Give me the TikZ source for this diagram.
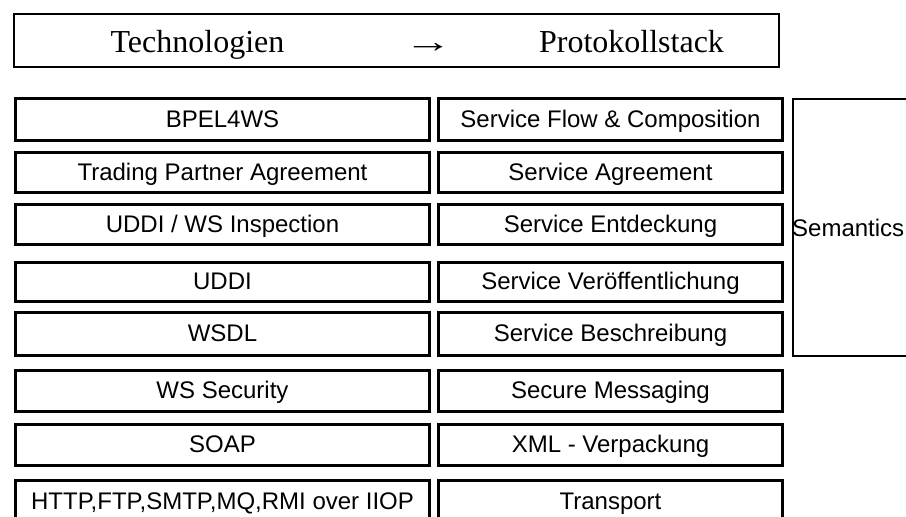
\documentclass[tikz,border=0pt]{standalone}
\usepackage{fontspec}
\setmainfont{Liberation Serif}
\newfontfamily\arialfont{Liberation Sans}
\begin{document}
\begin{tikzpicture}[x=1pt,y=-1pt,
  cell/.style={draw=black, line width=3pt, fill=white, inner sep=0pt,
    font=\arialfont\fontsize{24}{28}\selectfont,
    text height=17.2pt, text depth=2pt},
  leftcell/.style={cell, minimum width=414pt},
  rightcell/.style={cell, minimum width=344pt},
  headtext/.style={inner sep=0pt, anchor=base, font=\fontsize{32}{38}\selectfont}]
\useasboundingbox (0,0) rectangle (906,517);
\clip (0,0) rectangle (906,517);
\fill[white] (0,0) rectangle (906,517);

% heading bar
\node[draw=black, line width=2pt, inner sep=0pt, minimum width=765.3pt,
  minimum height=52.7pt] (head) at (396.35,40.65) {};
\node[headtext] (tech) at (197.5,52) {Technologien};
\node[headtext] (arrow) at (428,52) {\scalebox{1.5}[1]{→}};
\node[headtext] (proto) at (631.5,52) {Protokollstack};

% technology column (left) and protocol stack (right)
\node[leftcell, minimum height=42pt] (t1) at (222.5,119.5) {BPEL4WS};
\node[rightcell, minimum height=42pt] (p1) at (610.5,119.5) {Service Flow \& Composition};

\node[leftcell, minimum height=40pt] (t2) at (222.5,172.5) {Trading Partner Agreement};
\node[rightcell, minimum height=40pt] (p2) at (610.5,172.5) {Service Agreement};

\node[leftcell, minimum height=40pt] (t3) at (222.5,224.5) {UDDI / WS Inspection};
\node[rightcell, minimum height=40pt] (p3) at (610.5,224.5) {Service Entdeckung};

\node[leftcell, minimum height=39pt] (t4) at (222.5,282) {UDDI};
\node[rightcell, minimum height=39pt] (p4) at (610.5,282) {Service Veröffentlichung};

\node[leftcell, minimum height=43pt] (t5) at (222.5,334) {WSDL};
\node[rightcell, minimum height=43pt] (p5) at (610.5,334) {Service Beschreibung};

\node[leftcell, minimum height=41.5pt] (t6) at (222.5,390.75) {WS Security};
\node[rightcell, minimum height=41.5pt] (p6) at (610.5,390.75) {Secure Messaging};

\node[leftcell, minimum height=41pt] (t7) at (222.5,445) {SOAP};
\node[rightcell, minimum height=41pt] (p7) at (610.5,445) {XML - Verpackung};

\node[leftcell, minimum height=42pt] (t8) at (222.5,501.5) {HTTP,FTP,SMTP,MQ,RMI over IIOP};
\node[rightcell, minimum height=42pt] (p8) at (610.5,501.5) {Transport};

% semantics bracket spanning the upper five layers
\node[draw=black, line width=2pt, inner sep=0pt, anchor=north west,
  minimum width=140pt, minimum height=257pt] (sem) at (792,98) {};
\node[inner sep=0pt, anchor=base west, font=\arialfont\fontsize{24}{28}\selectfont]
  (semlabel) at (792,236.5) {Semantics};
\end{tikzpicture}
\end{document}
